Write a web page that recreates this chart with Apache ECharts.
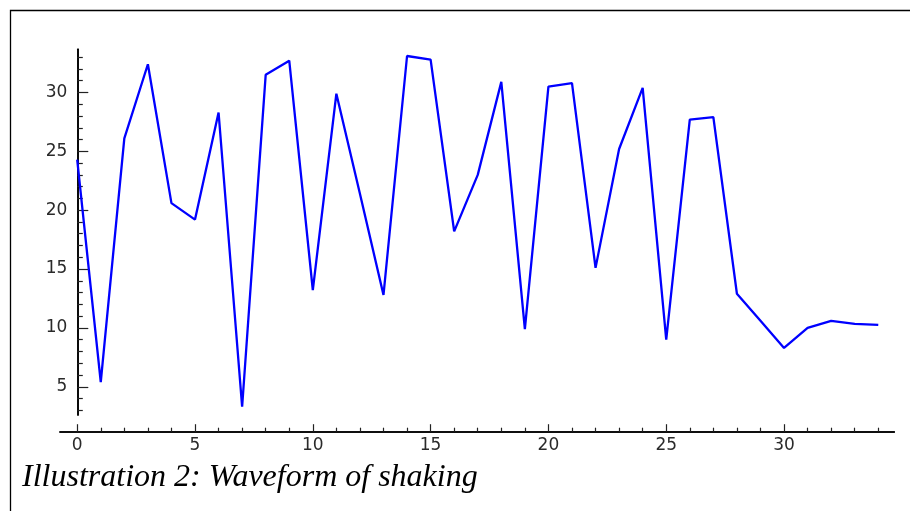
<!DOCTYPE html>
<html>
<head>
<meta charset="utf-8">
<script src="https://cdn.jsdelivr.net/npm/echarts@6/dist/echarts.min.js"></script>
<style>
  html, body { margin: 0; padding: 0; background: #fff; }
  #chart { width: 910px; height: 511px; }
</style>
</head>
<body>
<div id="chart"></div>
<script>
// Sample index (time step) and measured amplitude of the shaking waveform
const sampleIndex = [0, 1, 2, 3, 4, 5, 6, 7, 8, 9, 10, 11, 12, 13, 14, 15, 16, 17,
                     18, 19, 20, 21, 22, 23, 24, 25, 26, 27, 28, 29, 30, 31, 32, 33, 34];
const amplitude = [24.3, 5.4, 26.1, 32.4, 20.6, 19.2, 28.3, 3.3, 31.5, 32.7, 13.2, 29.9,
                   21.4, 12.8, 33.1, 32.8, 18.2, 23.0, 30.9, 9.9, 30.5, 30.8, 15.1, 25.2,
                   30.4, 9.0, 27.7, 27.9, 12.9, 10.6, 8.3, 10.0, 10.6, 10.35, 10.25];

// Axis ticks: labelled major ticks and unlabelled minor ticks
const xMajorTicks = [0, 5, 10, 15, 20, 25, 30];
const xMinorTicks = [1, 2, 3, 4, 6, 7, 8, 9, 11, 12, 13, 14, 16, 17, 18, 19, 21, 22, 23, 24,
                     26, 27, 28, 29, 31, 32, 33, 34];
const yMajorTicks = [5, 10, 15, 20, 25, 30];
const yMinorTicks = [3, 4, 6, 7, 8, 9, 11, 12, 13, 14, 16, 17, 18, 19, 21, 22, 23, 24,
                     26, 27, 28, 29, 31, 32, 33];

const captionText = 'Illustration 2: Waveform of shaking';

const X_MIN = -0.73, X_MAX = 34.68;
const Y_MIN = 2.6, Y_MAX = 33.67;
// The vertical axis sits at x = 0, i.e. 17.3px to the right of the plot's left edge
const Y_AXIS_SHIFT = -17.3;

const labelStyle = { fontFamily: 'DejaVu Sans', fontSize: 17, color: '#2a2a2a' };
const lineStyle = { color: '#000', width: 1.6 };

function xAxisDef(ticks, len, withLabels) {
  return {
    type: 'value', min: X_MIN, max: X_MAX, position: 'bottom', offset: 16.7,
    splitLine: { show: false },
    axisLine: { show: true, onZero: false, lineStyle },
    axisTick: { show: true, inside: true, length: len, customValues: ticks,
                lineStyle: { color: '#222', width: 1.2 } },
    axisLabel: withLabels
      ? Object.assign({ show: true, margin: 5, customValues: ticks }, labelStyle)
      : { show: false }
  };
}

function yAxisDef(ticks, len, withLabels) {
  return {
    type: 'value', min: Y_MIN, max: Y_MAX, position: 'left', offset: Y_AXIS_SHIFT,
    splitLine: { show: false },
    axisLine: { show: true, onZero: false, lineStyle },
    axisTick: { show: true, inside: true, length: len, customValues: ticks,
                lineStyle: { color: '#222', width: 1.2 } },
    axisLabel: withLabels
      ? Object.assign({ show: true, margin: 10, customValues: ticks }, labelStyle)
      : { show: false }
  };
}

const chart = echarts.init(document.getElementById('chart'), null, { renderer: 'canvas' });
chart.setOption({
  animation: false,
  backgroundColor: '#fff',
  grid: { left: 60, right: 15.7, top: 49.3, bottom: 96, containLabel: false },
  xAxis: [xAxisDef(xMajorTicks, 7.5, true), xAxisDef(xMinorTicks, 4, false)],
  yAxis: [yAxisDef(yMajorTicks, 11, true), yAxisDef(yMinorTicks, 5.5, false)],
  series: [{
    type: 'line',
    data: sampleIndex.map((x, i) => [x, amplitude[i]]),
    showSymbol: false,
    symbol: 'none',
    lineStyle: { color: '#0000ff', width: 2.3 },
    clip: false
  }],
  graphic: [
    {
      type: 'rect', silent: true,
      shape: { x: 10.5, y: 10.5, width: 1200, height: 1200 },
      style: { fill: 'none', stroke: '#000', lineWidth: 1.3 }
    },
    {
      type: 'text', silent: true, left: 22, top: 462,
      style: {
        text: captionText,
        font: 'italic 32px "Liberation Serif"',
        fill: '#000'
      }
    }
  ]
});
</script>
</body>
</html>
